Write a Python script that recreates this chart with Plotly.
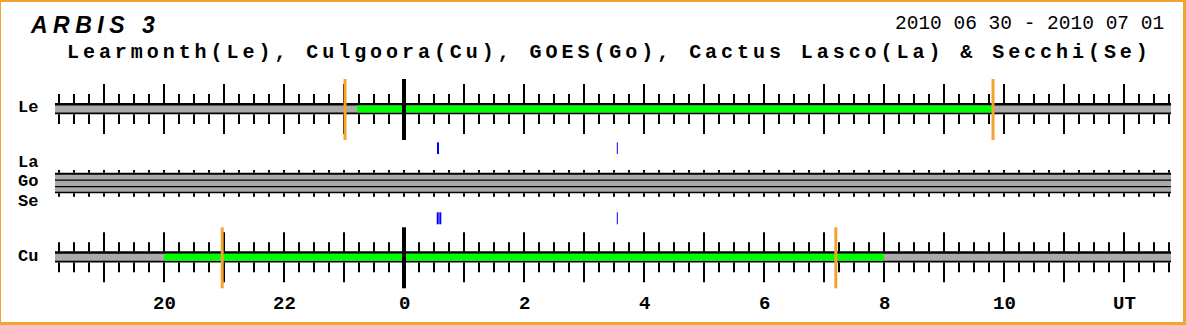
import plotly.graph_objects as go

W, H = 1186, 325

# ---------------- data (hours relative to 2010-07-01 00:00 UT) ----------------
axis_start, axis_end = -5.8167, 12.783
first_tick, last_tick = -5.75, 12.75
le_green = [-0.783, 9.795]          # Learmonth observing window
cu_green = [-4.0, 8.0]              # Culgoora observing window
le_orange = [-0.983, 9.817]         # Learmonth sunrise / sunset marks
cu_orange = [-3.03, 7.197]          # Culgoora sunrise / sunset marks
lasco_cme = [0.567, 3.555]          # Cactus LASCO events
secchi_cme = [0.562, 0.605, 3.555]  # Secchi events
tick_hours = [-4, -2, 0, 2, 4, 6, 8, 10, 12]
tick_labels = ["20", "22", "0", "2", "4", "6", "8", "10", "UT"]
row_labels = ["Le", "La", "Go", "Se", "Cu"]

# ---------------- layout constants (pixels) ----------------
ORANGE = "#F2A330"
GRAY = "#AAAAAA"
GREEN = "#00FF00"
BLUE = "#0000FF"
row_c = {"Le": 108.7, "Cu": 257.0}
mid_top, mid_bot = 172.7, 193.3
mid_strips = [(174.7, 179.4), (180.7, 186.0), (187.3, 191.7)]
la_y = (142.3, 154.0)
se_y = (212.3, 224.3)
label_y = {"Le": 107.5, "La": 162.5, "Go": 181.5, "Se": 201.5, "Cu": 256.0}

fig = go.Figure()
shapes = []


def rect(x0, x1, y0, y1, color):
    shapes.append(dict(type="rect", xref="x", yref="y", x0=x0, x1=x1, y0=y0, y1=y1,
                       fillcolor=color, line=dict(width=0), layer="below"))


quarters = []
n = int(round((last_tick - first_tick) / 0.25))
for k in range(n + 1):
    quarters.append(first_tick + 0.25 * k)

# station bars
for name, green in (("Le", le_green), ("Cu", cu_green)):
    c = row_c[name]
    rect(axis_start, axis_end, c - 5.7, c + 5.6, "black")
    rect(axis_start, axis_end, c - 3.2, c + 3.8, GRAY)
    rect(green[0], green[1], c - 3.2, c + 3.8, GREEN)

# GOES / LASCO / SECCHI strip
rect(axis_start, axis_end, mid_top, mid_bot, "black")
for y0, y1 in mid_strips:
    rect(axis_start, axis_end, y0, y1, GRAY)

# ticks
tx, ty = [], []
for name in ("Le", "Cu"):
    c = row_c[name]
    for h in quarters:
        if abs(h) < 1e-9:
            continue
        if abs(h - round(h)) < 1e-9:
            segs = [(c - 24.8, c - 5.6), (c + 5.5, c + 25.3)]
        else:
            segs = [(c - 14.7, c - 5.6), (c + 5.5, c + 15.3)]
        for a, b in segs:
            tx += [h, h, None]
            ty += [a, b, None]
for h in quarters:
    for a, b in ((mid_top - 2.7, mid_top), (mid_bot, mid_bot + 3.4)):
        tx += [h, h, None]
        ty += [a, b, None]
fig.add_trace(go.Scatter(x=tx, y=ty, mode="lines", line=dict(color="black", width=2),
                         hoverinfo="skip", showlegend=False))

# zero-hour lines
zx, zy = [], []
for name in ("Le", "Cu"):
    c = row_c[name]
    zx += [0, 0, None]
    zy += [c - 29.7, c + 31.3, None]
fig.add_trace(go.Scatter(x=zx, y=zy, mode="lines", line=dict(color="black", width=4),
                         hoverinfo="skip", showlegend=False))

# orange marks
ox, oy = [], []
for name, marks in (("Le", le_orange), ("Cu", cu_orange)):
    c = row_c[name]
    for h in marks:
        ox += [h, h, None]
        oy += [c - 29.7, c + 31.3, None]
fig.add_trace(go.Scatter(x=ox, y=oy, mode="lines", line=dict(color=ORANGE, width=3),
                         hoverinfo="skip", showlegend=False))

# CME events
for times, (y0, y1) in ((lasco_cme, la_y), (secchi_cme, se_y)):
    for h in times:
        w = 1 if h > 3 else 2
        fig.add_trace(go.Scatter(x=[h, h], y=[y0, y1], mode="lines",
                                 line=dict(color=BLUE, width=w),
                                 hoverinfo="skip", showlegend=False))

annotations = []
mono = "Liberation Mono"
for lab in row_labels:
    annotations.append(dict(xref="paper", yref="y", x=27.5 / W, y=label_y[lab], text=lab,
                            showarrow=False, xanchor="center", yanchor="middle",
                            font=dict(family=mono, size=17, color="black", weight="bold")))
for h, lab in zip(tick_hours, tick_labels):
    annotations.append(dict(xref="x", yref="y", x=h, y=304, text=lab, showarrow=False,
                            xanchor="center", yanchor="middle",
                            font=dict(family=mono, size=19, color="black", weight="bold")))

annotations.append(dict(xref="paper", yref="y", x=28 / W, y=24.5,
                        text='<span style="letter-spacing:5.5px">ARBIS 3</span>',
                        showarrow=False, xanchor="left", yanchor="middle",
                        font=dict(family="Liberation Sans", size=23, color="black",
                                  weight="bold", style="italic")))
annotations.append(dict(xref="paper", yref="y", x=1166 / W, y=23.5,
                        text="2010 06 30 - 2010 07 01",
                        showarrow=False, xanchor="right", yanchor="middle",
                        font=dict(family=mono, size=19.5, color="black")))
annotations.append(dict(xref="paper", yref="y", x=65 / W, y=52.5,
                        text='<span style="letter-spacing:3.95px">Learmonth(Le), Culgoora(Cu), '
                             'GOES(Go), Cactus Lasco(La) &amp; Secchi(Se)</span>',
                        showarrow=False, xanchor="left", yanchor="middle",
                        font=dict(family=mono, size=20, color="black", weight="bold")))

# frame
shapes.append(dict(type="rect", xref="paper", yref="paper",
                   x0=-0.5 / W, x1=1184.5 / W, y0=1 - 323.5 / H, y1=1 - 0.5 / H,
                   line=dict(color=ORANGE, width=3), fillcolor="rgba(0,0,0,0)", layer="above"))

fig.update_layout(
    width=W, height=H, margin=dict(l=0, r=0, t=0, b=0),
    paper_bgcolor="white", plot_bgcolor="white",
    xaxis=dict(range=[-404 / 60, 782 / 60], visible=False, showgrid=False, zeroline=False,
               fixedrange=True),
    yaxis=dict(range=[H, 0], visible=False, showgrid=False, zeroline=False, fixedrange=True),
    shapes=shapes, annotations=annotations, showlegend=False,
)
fig.write_html("out.html", config={"displayModeBar": False})
